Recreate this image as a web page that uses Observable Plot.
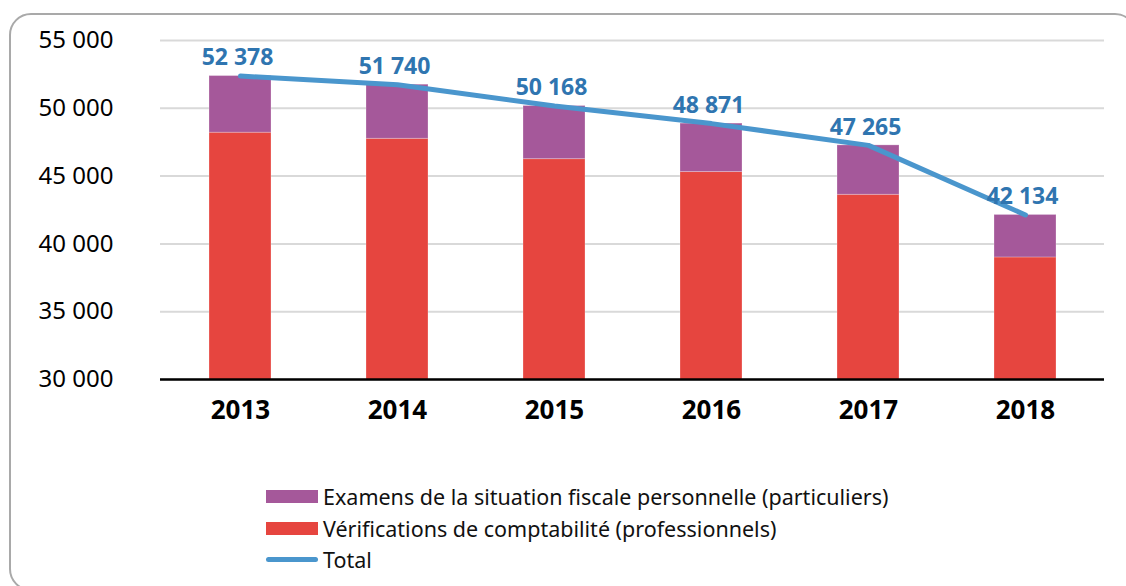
<!DOCTYPE html>
<html>
<head>
<meta charset="utf-8">
<script src="https://cdn.jsdelivr.net/npm/d3@7"></script>
<script src="https://cdn.jsdelivr.net/npm/@observablehq/plot@0.6"></script>
<style>
  html, body { margin: 0; padding: 0; background: #fff; }
  #wrap { position: relative; width: 1126px; height: 586px; overflow: hidden; font-family: "Noto Sans", "Open Sans", sans-serif; }
  #frame { position: absolute; left: 9px; top: 13px; width: 1128px; height: 578px; border: 2px solid #a9a9a9; border-radius: 22px; box-sizing: border-box; }
  #chart { position: absolute; left: 0; top: 0; }
  #legend { position: absolute; left: 266px; top: 480px; font-size: 21.5px; color: #111; }
  .row { position: absolute; left: 0; white-space: nowrap; height: 30px; display: flex; align-items: center; }
  .sw { width: 52px; height: 13px; margin-right: 5px; flex: none; }
  .ln { width: 52px; height: 5px; border-radius: 3px; margin-right: 5px; flex: none; }
</style>
</head>
<body>
<div id="wrap">
  <div id="frame"></div>
  <div id="chart"></div>
  <div id="legend"></div>
</div>
<script>
const years = ["2013", "2014", "2015", "2016", "2017", "2018"];
const verifications = [48200, 47750, 46250, 45300, 43620, 39000];
const examens = [4178, 3990, 3918, 3571, 3645, 3134];
const totals = [52378, 51740, 50168, 48871, 47265, 42134];
const seriesNames = [
  "Vérifications de comptabilité (professionnels)",
  "Examens de la situation fiscale personnelle (particuliers)"
];
const seriesColors = ["#e6453f", "#a5589a"];
const totalName = "Total";
const lineColor = "#4a96cd";
const labelColor = "#2f75b0";
const yTicks = [30000, 35000, 40000, 45000, 50000, 55000];

const stacked = [];
years.forEach((y, i) => {
  stacked.push({year: y, series: seriesNames[0], value: verifications[i]});
  stacked.push({year: y, series: seriesNames[1], value: examens[i]});
});
const totalData = years.map((y, i) => ({year: y, total: totals[i]}));
const fmt = d => d3.format(",")(d).replace(/,/g, " ");

const chart = Plot.plot({
  width: 1126,
  height: 440,
  marginLeft: 160,
  marginRight: 22,
  marginTop: 40,
  marginBottom: 61,
  style: {fontFamily: "'Noto Sans', 'Open Sans', sans-serif", background: "transparent"},
  x: {domain: years, paddingInner: 0.606, paddingOuter: 0.303, align: 0.5},
  y: {domain: [30000, 55000]},
  color: {domain: seriesNames, range: seriesColors},
  marks: [
    Plot.gridY(yTicks, {stroke: "#d9d9d9", strokeOpacity: 1, strokeWidth: 2}),
    Plot.barY(stacked, {x: "year", y: "value", fill: "series", order: seriesNames, clip: true, stroke: "#fff", strokeOpacity: 0.25, strokeWidth: 1}),
    Plot.ruleY([30000], {stroke: "#000", strokeWidth: 2.5}),
    Plot.line(totalData, {x: "year", y: "total", stroke: lineColor, strokeWidth: 5, strokeLinecap: "round", strokeLinejoin: "round"}),
    Plot.text(totalData, {x: "year", y: "total", text: d => fmt(d.total), dy: -18, dx: -3, fill: labelColor, fontWeight: "bold", fontSize: 23}),
    Plot.axisY(yTicks, {tickSize: 0, tickPadding: 47, fontSize: 24, tickFormat: fmt, fill: "#000", label: null}),
    Plot.axisX({tickSize: 0, tickPadding: 21, fontSize: 26, fontWeight: "bold", fill: "#000", label: null})
  ]
});
document.getElementById("chart").appendChild(chart);

const legend = document.getElementById("legend");
const rows = [
  {name: seriesNames[1], color: seriesColors[1], kind: "sw", top: 1},
  {name: seriesNames[0], color: seriesColors[0], kind: "sw", top: 33},
  {name: totalName, color: lineColor, kind: "ln", top: 64}
];
rows.forEach(r => {
  const row = document.createElement("div");
  row.className = "row";
  row.style.top = r.top + "px";
  const s = document.createElement("div");
  s.className = r.kind;
  s.style.background = r.color;
  const t = document.createElement("span");
  t.textContent = r.name;
  row.appendChild(s);
  row.appendChild(t);
  legend.appendChild(row);
});
</script>
</body>
</html>
